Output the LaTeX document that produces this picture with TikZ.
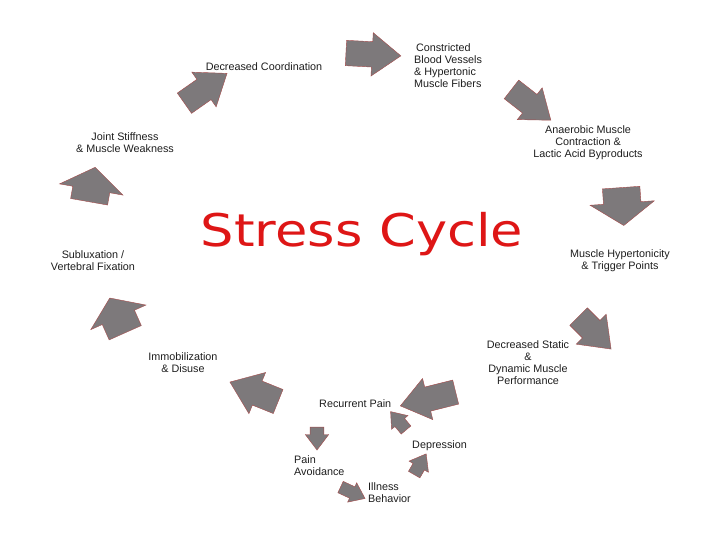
\documentclass[tikz,border=0pt]{standalone}
\usepackage{fontspec}
\setmainfont{Liberation Sans}
\newfontfamily\titlefont{DejaVu Sans}
\usetikzlibrary{shapes.arrows}

\definecolor{arrowGray}{RGB}{125,121,123}
\definecolor{arrowEdge}{RGB}{165,75,75}
\definecolor{titleRed}{RGB}{222,22,22}
\definecolor{labelInk}{RGB}{30,30,30}

\begin{document}
\begin{tikzpicture}[x=1pt,y=-1pt,
    label/.style={inner sep=0pt, text=labelInk, font=\fontsize{10.8}{12}\selectfont},
    blockarrow/.style n args={3}{single arrow, draw=arrowEdge, line width=0.4pt,
        fill=arrowGray, inner xsep=0pt, inner ysep={0.29*#2}, minimum height=#1,
        minimum width=#2, single arrow head extend={0.21*#2},
        single arrow tip angle=74, rotate=#3},
    wide/.style={single arrow tip angle=110}]
    \useasboundingbox[fill=white] (0,0) rectangle (720,540);

    \node[label, anchor=base, xscale=1.17, text=titleRed,
        font=\titlefont\fontsize{45}{50}\selectfont] (Title) at (362,247) {Stress Cycle};

    \node[label, align=left, anchor=north west] (Constricted) at (414,43)
        {\,Constricted\\Blood Vessels\\\& Hypertonic\\Muscle Fibers};
    \node[label, align=center] (Anaerobic) at (588,143)
        {Anaerobic Muscle\\Contraction \&\\Lactic Acid Byproducts};
    \node[label, align=center] (Hypertonicity) at (620,261)
        {Muscle Hypertonicity\\\& Trigger Points};
    \node[label, align=center] (Performance) at (528,363)
        {Decreased Static\\\&\\Dynamic Muscle\\Performance};
    \node[label, anchor=west] (Recurrent) at (319,404) {Recurrent Pain};
    \node[label, anchor=west] (Depression) at (412,446) {Depression};
    \node[label, align=left, anchor=west] (Avoidance) at (294,466) {Pain\\Avoidance};
    \node[label, align=left, anchor=west] (Behavior) at (368,493) {Illness\\Behavior};
    \node[label, align=center] (Immobilization) at (183,363)
        {Immobilization\\\& Disuse};
    \node[label, align=center] (Subluxation) at (93,261)
        {Subluxation /\\Vertebral Fixation};
    \node[label, align=center] (Stiffness) at (125,143)
        {Joint Stiffness\\\& Muscle Weakness};
    \node[label] (Coordination) at (264,67) {Decreased Coordination};

    \node[blockarrow={55}{43}{-3}] (toConstricted) at (365,54) {};
    \node[blockarrow={50}{40}{-38}] (toAnaerobic) at (525,100) {};
    \node[blockarrow={38}{64}{-86}, wide] (toHypertonicity) at (622,200) {};
    \node[blockarrow={46}{42}{-45}] (toPerformance) at (589,327) {};
    \node[blockarrow={57}{42}{194}] (toRecurrent) at (436,397) {};
    \node[blockarrow={52}{44}{158}] (toImmobilization) at (262,395) {};
    \node[blockarrow={38}{60}{114}, wide] (toSubluxation) at (120,321) {};
    \node[blockarrow={35}{64}{80}, wide] (toStiffness) at (91,191) {};
    \node[blockarrow={52}{42}{35}] (toCoordination) at (199,93) {};

    \node[blockarrow={23}{23}{-90}] (toAvoidance) at (317,434) {};
    \node[blockarrow={27}{21}{-25}] (toBehavior) at (349,491) {};
    \node[blockarrow={24}{22}{60}] (toDepression) at (418,468) {};
    \node[blockarrow={24}{21}{130}] (backRecurrent) at (401,424) {};
\end{tikzpicture}
\end{document}
